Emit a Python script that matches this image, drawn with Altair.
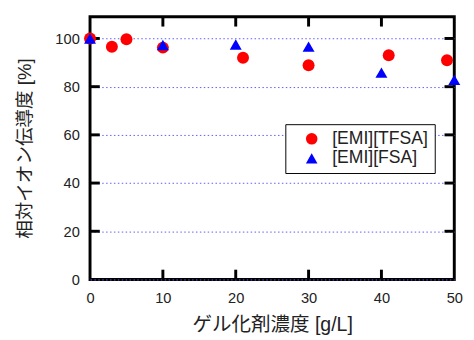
import altair as alt
import pandas as pd

# data
tfsa_x = [0, 3, 5, 10, 21, 30, 41, 49]
tfsa_y = [100, 96.6, 99.7, 96.2, 92.0, 88.9, 93.0, 91.0]
fsa_x = [0, 10, 20, 30, 40, 50]
fsa_y = [100, 97.3, 97.5, 96.6, 85.8, 82.8]
series_names = ["[EMI][TFSA]", "[EMI][FSA]"]
x_ticks = [0, 10, 20, 30, 40, 50]
y_ticks = [0, 20, 40, 60, 80, 100]

W, H = 373, 269
FONT = "Liberation Sans, Arial, Noto Sans CJK JP"

df = pd.DataFrame(
    {"x": tfsa_x + fsa_x,
     "y": tfsa_y + fsa_y,
     "s": [series_names[0]] * len(tfsa_x) + [series_names[1]] * len(fsa_x)}
)
xt = pd.DataFrame({"v": x_ticks[1:-1]})
yt = pd.DataFrame({"v": y_ticks[1:]})

xscale = alt.Scale(domain=[0, 50], nice=False, zero=False)
yscale = alt.Scale(domain=[0, 109], nice=False)

xaxis = alt.Axis(values=x_ticks, title="ゲル化剤濃度 [g/L]", grid=False,
                 ticks=False, domain=False, labelPadding=12,
                 titlePadding=9, labelFontSize=15, titleFontSize=20,
                 labelColor="#222", titleColor="#222", titleFontWeight="normal",
                 labelFont=FONT, titleFont=FONT, labelFlush=False)
yaxis = alt.Axis(values=y_ticks, title="相対イオン伝導度 [%]", grid=True,
                 gridColor="#5a5aff", gridDash=[1.5, 2.5], gridWidth=1,
                 ticks=False, domain=False, labelPadding=11,
                 titlePadding=21, labelFontSize=15, titleFontSize=19,
                 labelColor="#222", titleColor="#222", titleFontWeight="normal",
                 labelFont=FONT, titleFont=FONT)

points = alt.Chart(df).mark_point(filled=True, size=150, opacity=1).encode(
    x=alt.X("x:Q", scale=xscale, axis=xaxis, title="ゲル化剤濃度 [g/L]"),
    y=alt.Y("y:Q", scale=yscale, axis=yaxis, title="相対イオン伝導度 [%]"),
    color=alt.Color("s:N", scale=alt.Scale(domain=series_names, range=["#ff0000", "#0000ff"]),
                    legend=alt.Legend(title=None, orient="none", legendX=200, legendY=110,
                                      strokeColor="black", fillColor="white",
                                      padding=6, labelFontSize=18, labelFont=FONT,
                                      labelColor="#222", symbolSize=140, rowPadding=2,
                                      symbolOffset=12, labelOffset=12)),
    shape=alt.Shape("s:N", scale=alt.Scale(domain=series_names, range=["circle", "triangle-up"]),
                    legend=None),
)

left_ticks = alt.Chart(yt).mark_rule(color="black", strokeWidth=3).encode(
    y=alt.Y("v:Q", scale=yscale, axis=yaxis, title="相対イオン伝導度 [%]"),
    x=alt.value(0), x2=alt.value(10))
right_ticks = alt.Chart(yt).mark_rule(color="black", strokeWidth=3).encode(
    y=alt.Y("v:Q", scale=yscale, axis=yaxis, title="相対イオン伝導度 [%]"),
    x=alt.value(W - 10), x2=alt.value(W))
bottom_ticks = alt.Chart(xt).mark_rule(color="black", strokeWidth=3).encode(
    x=alt.X("v:Q", scale=xscale, axis=xaxis, title="ゲル化剤濃度 [g/L]"),
    y=alt.value(H - 10), y2=alt.value(H))
top_ticks = alt.Chart(xt).mark_rule(color="black", strokeWidth=3).encode(
    x=alt.X("v:Q", scale=xscale, axis=xaxis, title="ゲル化剤濃度 [g/L]"),
    y=alt.value(0), y2=alt.value(10))

chart = alt.layer(left_ticks, right_ticks, bottom_ticks, top_ticks, points).properties(
    width=W, height=H,
    autosize=alt.AutoSizeParams(type="none"),
    padding={"left": 84, "top": 5, "right": 12, "bottom": 58},
    background="white",
).configure_view(stroke="black", strokeWidth=3)

chart.save("out.html", embed_options={"renderer": "svg", "actions": False})
